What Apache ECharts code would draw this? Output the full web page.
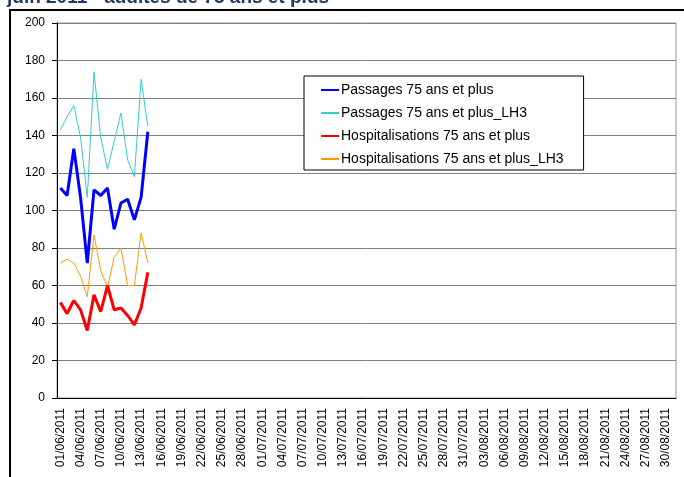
<!DOCTYPE html>
<html>
<head>
<meta charset="utf-8">
<script src="https://cdn.jsdelivr.net/npm/echarts@6/dist/echarts.min.js"></script>
<style>
  html, body { margin: 0; padding: 0; background: #fff; }
  #chart { width: 684px; height: 477px; }
</style>
</head>
<body>
<div id="chart"></div>
<script>
// axe des dates : 01/06/2011 -> 31/08/2011
var months = [["06", 30], ["07", 31], ["08", 31]];
var categories = [];
months.forEach(function (m) {
  for (var d = 1; d <= m[1]; d++) {
    categories.push((d < 10 ? "0" + d : "" + d) + "/" + m[0] + "/2011");
  }
});

var seriesNames = [
  "Passages 75 ans et plus",
  "Passages 75 ans et plus_LH3",
  "Hospitalisations 75 ans et plus",
  "Hospitalisations 75 ans et plus_LH3"
];

// valeurs (01/06 -> 14/06)
var passages = [112, 108, 133, 107, 72, 111, 108, 112, 90, 104, 106, 95, 107, 142];
var passagesLH3 = [143, 150, 156, 139, 107, 174, 139, 122, 137, 152, 127, 118, 170, 145];
var hospit = [51, 45, 52, 47, 36, 55, 46, 60, 47, 48, 44, 39, 48, 67];
var hospitLH3 = [72, 74, 72, 65, 54, 87, 68, 59, 75, 80, 60, 60, 88, 72];

var yTicks = [0, 20, 40, 60, 80, 100, 120, 140, 160, 180, 200];

var colors = ["#0000ff", "#33cccc", "#ff0000", "#ff9900"];
var widths = [3, 1, 3, 1];
var values = [passages, passagesLH3, hospit, hospitLH3];

var chart = echarts.init(document.getElementById("chart"));

var option = {
  animation: false,
  textStyle: { fontFamily: "Liberation Sans, Arial, sans-serif" },
  graphic: [
    {
      type: "rect",
      shape: { x: 10, y: 10, width: 700, height: 500 },
      style: { fill: "none", stroke: "#000", lineWidth: 2 },
      z: 0,
      silent: true
    },
    {
      type: "text",
      x: 7,
      y: 7,
      style: {
        text: "juin 2011 - adultes de 75 ans et plus",
        font: "bold 19px 'Liberation Sans', Arial, sans-serif",
        fill: "#1f3864",
        verticalAlign: "bottom"
      },
      z: 10
    }
  ],
  grid: {
    left: 57,
    right: 8,
    top: 23,
    bottom: 79,
    show: true,
    borderColor: "#999",
    borderWidth: 1
  },
  legend: {
    orient: "vertical",
    left: 304,
    top: 76,
    padding: [7, 20, 4, 16],
    itemGap: 9,
    itemWidth: 18,
    itemHeight: 12,
    backgroundColor: "#fff",
    borderColor: "#000",
    borderWidth: 1,
    itemStyle: { opacity: 0 },
    textStyle: { fontSize: 14, color: "#000", padding: [0, 0, 0, -3] },
    data: seriesNames
  },
  xAxis: {
    type: "category",
    data: categories,
    boundaryGap: true,
    axisLine: { lineStyle: { color: "#000", width: 1 } },
    axisTick: { interval: 2, length: 5, lineStyle: { color: "#000" } },
    axisLabel: {
      interval: 2,
      rotate: 90,
      margin: 10,
      fontSize: 12,
      color: "#000"
    },
    splitLine: { show: false }
  },
  yAxis: {
    type: "value",
    min: yTicks[0],
    max: yTicks[yTicks.length - 1],
    interval: yTicks[1] - yTicks[0],
    axisLine: { show: true, lineStyle: { color: "#000", width: 1 } },
    axisTick: { show: true, length: 5, lineStyle: { color: "#000" } },
    axisLabel: { fontSize: 12, color: "#000", margin: 12 },
    splitLine: { show: true, lineStyle: { color: "#808080", width: 1 } }
  },
  series: seriesNames.map(function (name, i) {
    return {
      name: name,
      type: "line",
      data: values[i],
      symbol: "none",
      color: colors[i],
      lineStyle: { color: colors[i], width: widths[i] },
      z: i % 2 === 0 ? 3 : 2
    };
  })
};

chart.setOption(option);
window.addEventListener("resize", function () {
  chart.resize();
});
</script>
</body>
</html>
